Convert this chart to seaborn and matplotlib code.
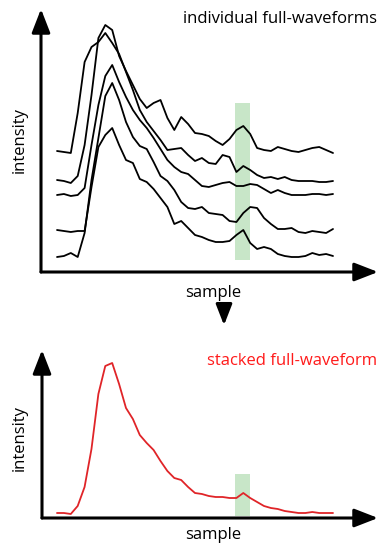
import numpy as np
import pandas as pd
import matplotlib.pyplot as plt
import seaborn as sns

# sample index of every waveform vertex
samples = list(range(41))

# individual full-waveforms, intensity above the x axis
wave_a = [121, 120, 119, 159, 210, 225, 230, 239, 229, 218, 200, 182, 162, 150, 141, 132, 122, 123, 124, 117,
          111, 114, 109, 108, 117, 115, 100, 106, 102, 97, 94, 95, 93, 95, 92, 91, 91, 91, 90, 90, 91]
wave_b = [92, 91, 89, 96, 127, 177, 234, 247, 242, 216, 201, 187, 173, 164, 169, 172, 154, 142, 155, 148,
          139, 138, 136, 131, 127, 133, 142, 146, 138, 124, 122, 121, 125, 123, 121, 120, 122, 124, 125, 122, 119]
wave_c = [77, 78, 76, 77, 84, 127, 167, 196, 207, 190, 175, 162, 152, 144, 134, 123, 112, 105, 100, 98,
          92, 86, 85, 87, 89, 90, 86, 86, 88, 87, 83, 79, 82, 79, 77, 77, 77, 78, 78, 77, 78]
wave_d = [42, 41, 40, 41, 41, 85, 125, 137, 144, 127, 112, 109, 93, 90, 83, 74, 65, 48, 51, 44,
          37, 35, 32, 30, 30, 31, 37, 42, 29, 23, 25, 23, 18, 16, 15, 15, 16, 19, 17, 18, 16]
wave_e = [15, 16, 19, 15, 39, 92, 134, 176, 189, 172, 150, 135, 126, 123, 110, 96, 91, 82, 70, 64,
          63, 65, 59, 58, 57, 51, 50, 59, 65, 64, 54, 48, 43, 43, 44, 40, 39, 41, 40, 39, 43]

# stacked full-waveform
stacked = [5, 5, 4, 12, 31, 69, 124, 152, 155, 134, 110, 99, 83, 75, 68, 57, 47, 40, 38, 31,
           25, 24, 22, 21, 21, 20, 20, 25, 20, 16, 12, 10, 9, 7, 6, 5, 5, 6, 5, 5, 5]

band_samples = (25.8, 28.0)
band_top = (12, 169)
band_bottom = (2, 44)

W, H = 378, 544
FONT = ['Open Sans', 'DejaVu Sans']


def px_axes(fig, x0, y0, x1, y1):
    # axes placed with pixel corners (y measured from the top)
    ax = fig.add_axes([x0 / W, 1 - y1 / H, (x1 - x0) / W, (y1 - y0) / H])
    ax.set_axis_off()
    return ax


def arrow_axes(ax):
    kw = dict(arrowstyle='-|>,head_length=0.9,head_width=0.35', color='black', lw=2.2,
              shrinkA=0, shrinkB=0, mutation_scale=16)
    ax.annotate('', xy=(1, 0), xytext=(0, 0), xycoords='axes fraction', arrowprops=kw)
    ax.annotate('', xy=(0, 1), xytext=(0, 0), xycoords='axes fraction', arrowprops=kw)


sns.set_style('white')
plt.rcParams['font.family'] = FONT
plt.rcParams['text.color'] = 'black'

fig = plt.figure(figsize=(W / 100, H / 100), dpi=100)

# top panel
top = px_axes(fig, 41, 9, 378, 272)
top.fill_between(band_samples, band_top[0], band_top[1], color='#c8e6c8', lw=0)
df = pd.DataFrame({
    'sample': samples * 5,
    'intensity': wave_a + wave_b + wave_c + wave_d + wave_e,
    'trace': np.repeat(['a', 'b', 'c', 'd', 'e'], len(samples)),
})
sns.lineplot(data=df, x='sample', y='intensity', units='trace', estimator=None,
             color='black', lw=1.3, ax=top, legend=False)
top.set_xlim(-2.32, 46.52)
top.set_ylim(0, 263)
top.set_axis_off()
arrow_axes(top)

# bottom panel
bot = px_axes(fig, 42, 350, 378, 518)
bot.fill_between(band_samples, band_bottom[0], band_bottom[1], color='#c8e6c8', lw=0)
sns.lineplot(x=samples, y=stacked, color='#e02428', lw=1.3, ax=bot)
bot.set_xlim(-2.17, 46.52)
bot.set_ylim(0, 168)
bot.set_axis_off()
arrow_axes(bot)

# down arrow between the panels
fig.add_artist(plt.matplotlib.patches.FancyArrowPatch(
    (224 / W, 1 - 305 / H), (224 / W, 1 - 328 / H), transform=fig.transFigure,
    arrowstyle='-|>,head_length=0.9,head_width=0.35', mutation_scale=14, color='black', lw=2.2))

fs = 12
fig.text(183 / W, 1 - 19 / H, 'individual full-waveforms', fontsize=fs, va='center', ha='left')
fig.text(207 / W, 1 - 361 / H, 'stacked full-waveform', fontsize=fs, va='center', ha='left', color='#ff1a1a')
fig.text(20 / W, 1 - 140 / H, 'intensity', fontsize=fs, rotation=90, va='center', ha='center')
fig.text(20 / W, 1 - 438 / H, 'intensity', fontsize=fs, rotation=90, va='center', ha='center')
fig.text(213 / W, 1 - 293 / H, 'sample', fontsize=fs, va='center', ha='center')
fig.text(213 / W, 1 - 535 / H, 'sample', fontsize=fs, va='center', ha='center')

fig.savefig('out.png', dpi=100)
